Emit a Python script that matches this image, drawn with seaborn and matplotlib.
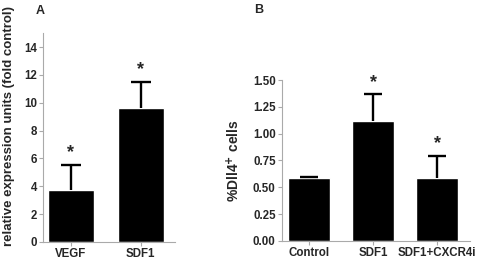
import numpy as np
import pandas as pd
import matplotlib
matplotlib.use('Agg')
import matplotlib.pyplot as plt
import seaborn as sns

# data
a_groups = ['VEGF', 'SDF1']
a_means = [3.75, 9.65]
a_err = [1.75, 1.85]
a_stars = [True, True]
a_ticks = [0, 2, 4, 6, 8, 10, 12, 14]

b_groups = ['Control', 'SDF1', 'SDF1+CXCR4i']
b_means = [0.59, 1.12, 0.59]
b_err = [0.01, 0.25, 0.205]
b_stars = [False, True, True]
b_ticks = [0.00, 0.25, 0.50, 0.75, 1.00, 1.25, 1.50]

sns.set_style('white')
plt.rcParams['font.family'] = ['Liberation Sans', 'DejaVu Sans']
plt.rcParams['font.weight'] = 'bold'

spine_col = '#aaaaaa'

fig = plt.figure(figsize=(4.86, 2.65), dpi=100)
ax_a = fig.add_axes([0.0885, 0.087, 0.2715, 0.788])
ax_b = fig.add_axes([0.580, 0.091, 0.387, 0.607])


def panel(ax, groups, means, errs, stars, ticks, ylim, xlim, fmt):
  df = pd.DataFrame({'group': groups, 'value': means})
  sns.barplot(data=df, x='group', y='value', color='black', width=0.66,
              errorbar=None, ax=ax, saturation=1)
  x = np.arange(len(groups))
  tops = np.array(means) + np.array(errs)
  # one-sided error bars: stem up from the bar top, cap at the top only
  ax.vlines(x, means, tops, color='black', linewidth=1.7)
  ax.hlines(tops, x - 0.14, x + 0.14, color='black', linewidth=1.7)
  for xi, t, s in zip(x, tops, stars):
    if s:
      ax.text(xi, t + ylim[1] * 0.02, '*', ha='center', va='bottom',
              fontsize=13, fontweight='bold')
  ax.set_ylim(*ylim)
  ax.set_xlim(*xlim)
  ax.set_yticks(ticks)
  ax.set_yticklabels([fmt.format(t) for t in ticks])
  ax.set_xlabel('')
  ax.set_ylabel('')
  for side in ['top', 'right']:
    ax.spines[side].set_visible(False)
  for side in ['left', 'bottom']:
    ax.spines[side].set_color(spine_col)
    ax.spines[side].set_linewidth(0.8)
  ax.tick_params(axis='both', which='both', direction='out', length=3,
                 width=0.8, color=spine_col, labelsize=8.3, pad=1.5,
                 left=True, bottom=True)
  for lbl in ax.get_xticklabels() + ax.get_yticklabels():
    lbl.set_fontweight('bold')


panel(ax_a, a_groups, a_means, a_err, a_stars, a_ticks, (0, 15),
      (-0.4, 1.49), '{:.0f}')
panel(ax_b, b_groups, b_means, b_err, b_stars, b_ticks, (0, 1.5),
      (-0.43, 2.51), '{:.2f}')

fig.text(9 / 486, 1 - 126 / 265, 'relative expression units (fold control)',
         rotation=90, ha='center', va='center', fontsize=9.5, fontweight='bold')
fig.text(234 / 486, 1 - 161 / 265, '%Dll4$^{\\mathbf{+}}$ cells',
         rotation=90, ha='center', va='center', fontsize=10, fontweight='bold')
fig.text(40 / 486, 1 - 11 / 265, 'A', ha='center', va='center',
         fontsize=9, fontweight='bold')
fig.text(259 / 486, 1 - 10 / 265, 'B', ha='center', va='center',
         fontsize=9, fontweight='bold')

fig.savefig('out.png', dpi=100)
